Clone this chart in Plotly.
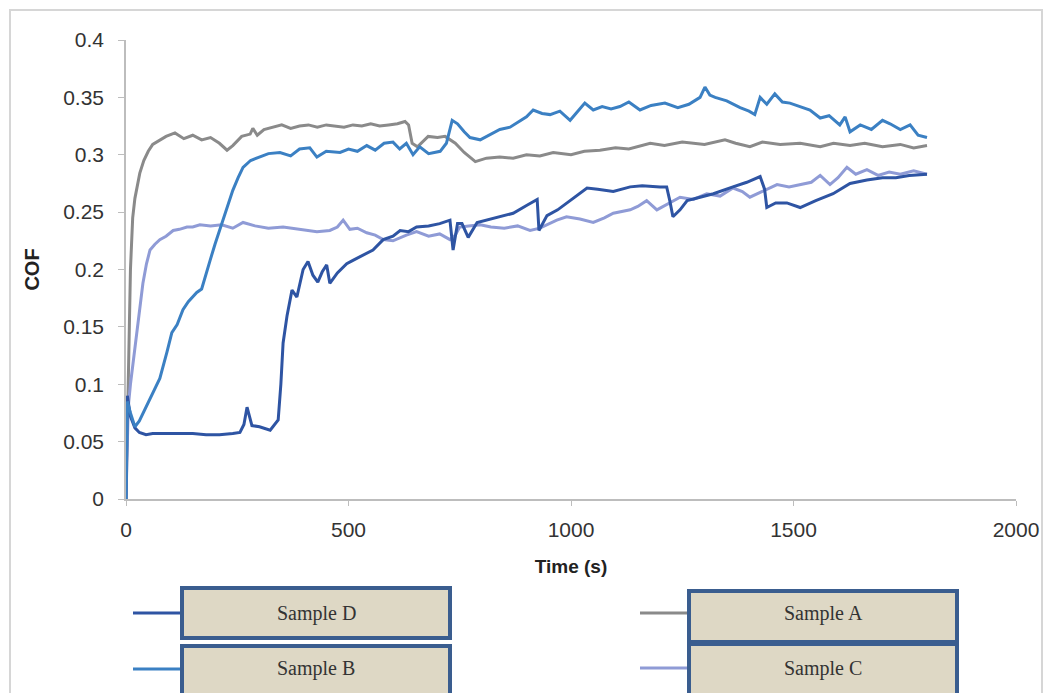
import plotly.graph_objects as go

# ---------------- data ----------------
t_A = [0,5,10,15,20,25,31,40,50,60,76,90,110,130,150,170,190,210,227,240,260,279,285,295,310,330,350,370,390,410,
       430,450,470,490,510,530,550,570,590,610,627,635,643,655,679,700,717,740,760,785,810,840,870,900,930,960,1000,1030,1065,1100,
       1130,1178,1210,1250,1300,1346,1370,1402,1430,1470,1515,1540,1560,1590,1627,1660,1700,1740,1770,1800]
cof_A = [0,0.12,0.2,0.245,0.262,0.272,0.284,0.295,0.303,0.309,0.313,0.316,0.319,0.314,0.317,0.313,0.315,0.31,0.304,0.308,
         0.316,0.318,0.323,0.317,0.322,0.324,0.326,0.323,0.325,0.326,0.324,0.326,0.325,0.324,0.326,0.325,0.327,0.325,0.326,0.327,
         0.329,0.326,0.31,0.307,0.316,0.315,0.316,0.31,0.302,0.294,0.297,0.298,0.297,0.3,0.299,0.302,0.3,0.303,0.304,0.306,
         0.305,0.31,0.308,0.311,0.309,0.313,0.31,0.307,0.311,0.309,0.31,0.308,0.307,0.31,0.308,0.31,0.307,0.309,0.306,0.308]

t_B = [0,3,10,20,30,45,60,76,92,103,115,128,140,159,170,182,189,200,218,230,240,252,263,280,301,320,346,370,390,413,
       429,450,481,500,520,541,560,580,600,615,630,645,660,680,706,720,733,745,760,773,796,820,840,863,880,900,915,935,953,975,
       998,1015,1031,1050,1070,1090,1110,1130,1155,1180,1211,1240,1265,1290,1301,1312,1324,1350,1380,1400,
       1413,1425,1440,1458,1475,1492,1515,1537,1560,1580,1604,1616,1627,1650,1675,1700,1717,1740,1762,1780,1800]
cof_B = [0,0.085,0.075,0.063,0.068,0.08,0.092,0.105,0.128,0.145,0.152,0.165,0.172,0.18,0.183,0.2,0.208,0.222,0.243,0.258,
         0.269,0.28,0.289,0.295,0.298,0.301,0.302,0.299,0.305,0.306,0.298,0.303,0.302,0.305,0.303,0.308,0.304,0.31,0.311,0.305,
         0.31,0.3,0.307,0.301,0.303,0.31,0.33,0.327,0.32,0.315,0.313,0.318,0.322,0.324,0.328,0.333,0.339,0.336,0.335,0.338,
         0.33,0.338,0.345,0.339,0.342,0.34,0.342,0.346,0.339,0.343,0.345,0.341,0.344,0.35,0.359,0.352,0.35,0.347,0.341,0.338,
         0.335,0.35,0.344,0.353,0.346,0.345,0.342,0.339,0.332,0.334,0.326,0.333,0.32,0.326,0.322,0.33,0.327,0.322,0.326,0.317,0.315]

t_C = [0,5,10,20,30,38,46,54,65,76,90,106,120,137,150,166,190,215,240,263,290,320,353,390,429,458,475,488,503,520,
       541,560,578,600,630,653,680,705,728,740,750,770,796,820,850,880,908,930,968,990,1020,1050,1075,1095,1133,1150,1170,1193,1220,1245,
       1275,1305,1335,1364,1385,1402,1430,1463,1490,1515,1540,1560,1582,1600,1620,1640,1665,1690,1715,1740,1770,1800]
cof_C = [0,0.08,0.1,0.13,0.165,0.188,0.205,0.217,0.222,0.226,0.229,0.234,0.235,0.237,0.237,0.239,0.238,0.239,0.236,0.241,
         0.238,0.236,0.237,0.235,0.233,0.234,0.237,0.243,0.235,0.236,0.232,0.23,0.226,0.225,0.23,0.233,0.229,0.231,0.226,0.23,
         0.237,0.238,0.239,0.237,0.236,0.238,0.234,0.236,0.243,0.246,0.244,0.241,0.245,0.249,0.252,0.255,0.26,0.252,0.258,0.263,
         0.261,0.266,0.264,0.271,0.268,0.263,0.268,0.274,0.272,0.274,0.276,0.282,0.274,0.28,0.289,0.283,0.287,0.282,0.285,0.283,
         0.286,0.283]

t_D = [0,3,10,20,30,45,60,90,120,150,180,210,240,256,265,272,283,300,324,342,348,353,362,373,384,398,409,420,431,441,
       451,458,475,496,510,526,541,555,578,600,616,635,653,680,705,728,735,745,755,769,789,810,834,870,901,924,928,946,970,991,
       1015,1036,1060,1095,1133,1160,1200,1215,1222,1229,1245,1261,1290,1320,1364,1395,1425,1435,1440,1460,
       1485,1515,1550,1589,1627,1665,1700,1730,1760,1800]
cof_D = [0,0.09,0.072,0.062,0.058,0.056,0.057,0.057,0.057,0.057,0.056,0.056,0.057,0.058,0.065,0.08,0.064,0.063,0.06,0.069,
         0.1,0.136,0.16,0.182,0.176,0.2,0.207,0.195,0.189,0.198,0.204,0.188,0.197,0.205,0.208,0.211,0.214,0.217,0.226,0.229,
         0.234,0.233,0.237,0.238,0.24,0.243,0.217,0.24,0.24,0.228,0.241,0.243,0.245,0.249,0.256,0.261,0.234,0.247,0.252,0.258,
         0.265,0.271,0.27,0.268,0.272,0.273,0.272,0.272,0.26,0.246,0.252,0.26,0.263,0.266,0.272,0.276,0.281,0.27,0.254,0.258,
         0.258,0.254,0.26,0.266,0.275,0.278,0.28,0.28,0.282,0.283]

x_ticks = [0, 500, 1000, 1500, 2000]
y_ticks = [0, 0.05, 0.1, 0.15, 0.2, 0.25, 0.3, 0.35, 0.4]
y_tick_text = ["0", "0.05", "0.1", "0.15", "0.2", "0.25", "0.3", "0.35", "0.4"]

names = ["Sample A", "Sample B", "Sample C", "Sample D"]
colors = {"Sample A": "#8a8a8a", "Sample B": "#3b80c3", "Sample C": "#8f9bd6", "Sample D": "#2e54a3"}
series = {"Sample A": (t_A, cof_A), "Sample B": (t_B, cof_B),
          "Sample C": (t_C, cof_C), "Sample D": (t_D, cof_D)}

# ---------------- figure ----------------
OFF = 8                      # page body margin
W, H = 1051 - OFF, 693 - OFF
L, R, T, B = 126 - OFF, 35, 40 - OFF, 194
PW, PH = W - L - R, H - T - B


def px(xpage):
    return (xpage - OFF - L) / PW


def py(ypage):
    return (H - B - (ypage - OFF)) / PH


fig = go.Figure()
for nm in ["Sample A", "Sample C", "Sample D", "Sample B"]:
    tx, ty = series[nm]
    fig.add_trace(go.Scatter(x=tx, y=ty, mode="lines", name=nm,
                             line=dict(color=colors[nm], width=3), showlegend=False))

axis_col = "#bdbdbd"
tick_font = dict(family="Liberation Sans, Arial", size=21, color="#333333")
fig.update_xaxes(range=[0, 2000], tickvals=x_ticks, showgrid=False, zeroline=False,
                 showline=True, linecolor=axis_col, linewidth=1.5,
                 ticks="outside", ticklen=5, tickcolor=axis_col, ticklabelstandoff=6,
                 tickfont=tick_font,
                 title=dict(text="<b>Time (s)</b>", standoff=20,
                            font=dict(family="Liberation Sans, Arial", size=19, color="#222")))
fig.update_yaxes(range=[0, 0.4], tickvals=y_ticks, ticktext=y_tick_text, showgrid=False, zeroline=False,
                 showline=True, linecolor=axis_col, linewidth=1.5,
                 ticks="outside", ticklen=6, tickcolor=axis_col, ticklabelstandoff=10,
                 tickfont=tick_font,
                 title=dict(text="<b>COF</b>", standoff=18,
                            font=dict(family="Liberation Sans, Arial", size=20, color="#222")))

shapes = []
# outer frame
shapes.append(dict(type="rect", xref="paper", yref="paper", x0=px(10), x1=px(1042), y0=py(10), y1=py(730),
                   line=dict(color="#d6d6d6", width=2), fillcolor="rgba(0,0,0,0)", layer="below"))

annotations = []
box_fill = "#ded8c5"
box_line = "#3a5d8f"
# legend entries: (name, line x0, box x0, box x1, box y0, box y1, line y)  in page pixels
legend_items = [
    ("Sample D", 133, 182, 450, 588, 638, 613),
    ("Sample B", 133, 182, 450, 646, 710, 669),
    ("Sample A", 640, 689, 957, 591, 642, 613),
    ("Sample C", 640, 689, 957, 644, 710, 668),
]
for nm, lx0, bx0, bx1, by0, by1, ly in legend_items:
    shapes.append(dict(type="line", xref="paper", yref="paper", x0=px(lx0), x1=px(bx0), y0=py(ly), y1=py(ly),
                       line=dict(color=colors[nm], width=3)))
    shapes.append(dict(type="rect", xref="paper", yref="paper", x0=px(bx0), x1=px(bx1), y0=py(by1), y1=py(by0),
                       line=dict(color=box_line, width=4), fillcolor=box_fill))
    annotations.append(dict(xref="paper", yref="paper", x=px((bx0 + bx1) / 2), y=py(ly), text=nm,
                            showarrow=False, xanchor="center", yanchor="middle",
                            font=dict(family="Liberation Serif, Times New Roman", size=20, color="#333333")))

fig.update_layout(width=W, height=H, margin=dict(l=L, r=R, t=T, b=B),
                  paper_bgcolor="white", plot_bgcolor="white",
                  shapes=shapes, annotations=annotations, showlegend=False)

fig.write_html("out.html")
